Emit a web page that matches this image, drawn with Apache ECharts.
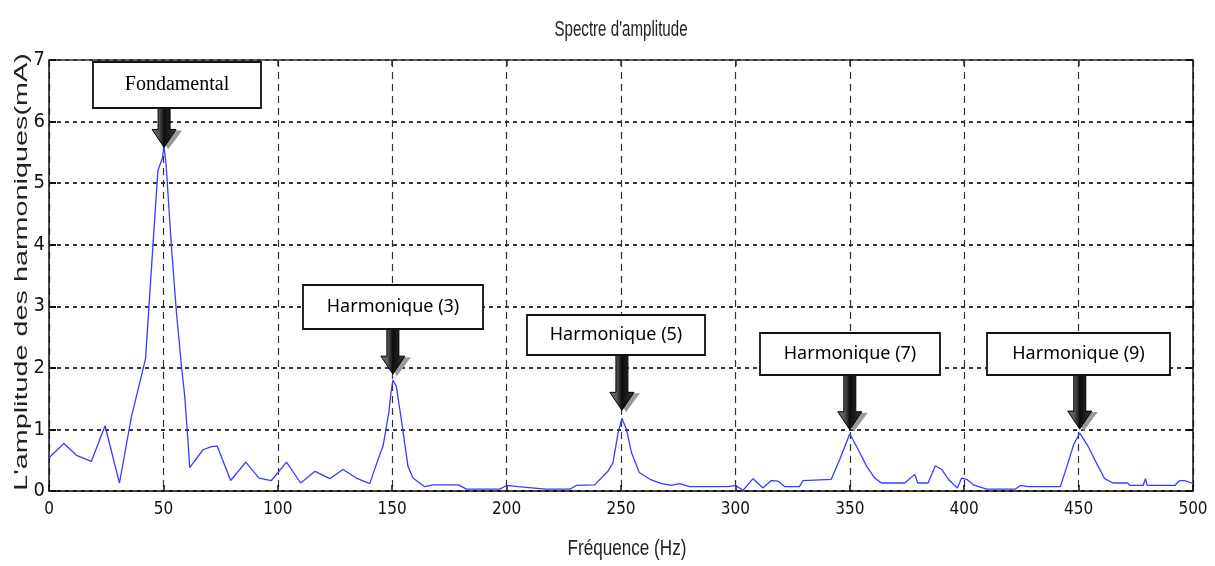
<!DOCTYPE html>
<html><head><meta charset="utf-8">
<script src="https://cdn.jsdelivr.net/npm/echarts@6/dist/echarts.min.js"></script>
<style>html,body{margin:0;padding:0;background:#fff}#c{width:1215px;height:566px}</style>
</head><body><div id="c"></div>
<script>
// ---- data ----
const freqHz = [0, 6.5, 12, 18.5, 24.5, 30.8, 36, 42.2, 45.5, 47.6, 48.5, 49.5, 50.3, 51.2, 53.5, 55.7, 57.9, 59.3, 60.8, 61.5,
  67.3, 71, 73.5, 79.4, 86, 91.8, 97.2, 103.8, 110, 116.3, 122.7, 128.5, 134.3, 140.2, 143.8, 146, 148.5, 149.5, 150.3, 151.8,
  154, 156.9, 159.1, 164.2, 168, 179, 182.4, 197, 200, 205, 217, 227.6, 230.5, 238.5, 244.3, 246.5, 248.7, 250.4, 252.4, 254.6,
  258, 262.7, 267.7, 272, 275.6, 280, 296.8, 300.2, 303.3, 307.7, 312, 315.7, 318.7, 321.6, 328, 329.6, 341.9, 345.6, 350, 353.7,
  357.4, 360.9, 363.8, 374, 378.4, 379.7, 384.2, 387.4, 390.2, 393.1, 397, 398.9, 401.1, 404, 409.8, 422.3, 424.5, 428.1, 442, 444.9,
  447.8, 450.5, 454.1, 457.7, 461.4, 465, 471.6, 472.3, 478.2, 479.2, 480, 492.1, 494.2, 496.4, 499.4, 500];
const amplitude = [0.54, 0.77, 0.58, 0.48, 1.06, 0.13, 1.2, 2.15, 4.03, 5.2, 5.3, 5.4, 5.58, 5.3, 3.97, 2.9, 2.03, 1.55, 0.78, 0.38,
  0.67, 0.72, 0.73, 0.17, 0.47, 0.21, 0.17, 0.47, 0.13, 0.32, 0.2, 0.35, 0.21, 0.12, 0.51, 0.73, 1.27, 1.6, 1.8, 1.7,
  1.16, 0.4, 0.21, 0.07, 0.1, 0.1, 0.03, 0.03, 0.09, 0.07, 0.03, 0.03, 0.09, 0.1, 0.32, 0.46, 0.94, 1.18, 1.0, 0.62,
  0.3, 0.19, 0.12, 0.09, 0.12, 0.07, 0.07, 0.09, 0.01, 0.2, 0.05, 0.17, 0.16, 0.07, 0.07, 0.17, 0.19, 0.51, 0.93, 0.67,
  0.4, 0.21, 0.13, 0.13, 0.27, 0.13, 0.13, 0.41, 0.35, 0.19, 0.05, 0.21, 0.19, 0.1, 0.03, 0.03, 0.09, 0.07, 0.07, 0.4,
  0.75, 0.94, 0.73, 0.46, 0.2, 0.13, 0.13, 0.09, 0.09, 0.2, 0.09, 0.09, 0.17, 0.17, 0.13, 0.13];
const xTickValues = [0, 50, 100, 150, 200, 250, 300, 350, 400, 450, 500];
const yTickValues = [0, 1, 2, 3, 4, 5, 6, 7];
const annotationLabels = ['Fondamental', 'Harmonique (3)', 'Harmonique (5)', 'Harmonique (7)', 'Harmonique (9)'];
const annotationFreq = [50.3, 150.3, 250.4, 350, 450.5];
const annotationPeak = [5.58, 1.8, 1.18, 0.93, 0.94];
const titleText = "Spectre d'amplitude";
const xName = 'Fréquence (Hz)';
const yName = "L'amplitude des harmoniques(mA)";

// ---- layout (pixels) ----
const SANS = '"Noto Sans", "Open Sans", sans-serif';
const boxes = [
  {l: 93, t: 62, w: 168, h: 46, font: '20px "Liberation Serif", "DejaVu Serif", serif', gap: 0},
  {l: 303, t: 285, w: 180, h: 44, font: '18px ' + SANS, gap: 6},
  {l: 527, t: 315, w: 178, h: 40, font: '18px ' + SANS, gap: 8},
  {l: 760, t: 333, w: 180, h: 42, font: '18px ' + SANS, gap: 4},
  {l: 987, t: 333, w: 183, h: 42, font: '18px ' + SANS, gap: 4}
];
const NARROW = '"Liberation Sans Narrow", "DejaVu Sans Condensed", "Liberation Sans", sans-serif';
const ARIAL = '"Liberation Sans", Arial, sans-serif';

const seriesData = freqHz.map((f, i) => [f, amplitude[i]]);
const chart = echarts.init(document.getElementById('c'), null, {renderer: 'canvas'});

const baseX = {type: 'value', min: 0, max: 500, interval: 50};
const baseY = {type: 'value', min: 0, max: 7, interval: 1};
chart.setOption({
  animation: false,
  backgroundColor: '#fff',
  grid: {left: 49, right: 22, top: 60, bottom: 75, containLabel: false, show: false},
  xAxis: [
    Object.assign({}, baseX, {
      position: 'bottom',
      axisLine: {show: true, onZero: false, lineStyle: {color: '#111', width: 1.5}},
      axisTick: {show: true, inside: true, length: 6, lineStyle: {color: '#111', width: 1.5}},
      axisLabel: {color: '#111', fontFamily: NARROW, fontSize: 17, margin: 10,
        formatter: v => xTickValues.includes(v) ? String(v) : ''},
      splitLine: {show: true, lineStyle: {color: '#333', type: [7, 5], width: 1.2}}
    }),
    Object.assign({}, baseX, {
      position: 'top',
      axisLine: {show: true, onZero: false, lineStyle: {color: '#333', width: 1.5}},
      axisTick: {show: true, inside: true, length: 6, lineStyle: {color: '#333', width: 1.5}},
      axisLabel: {show: false}, splitLine: {show: false}
    })
  ],
  yAxis: [
    Object.assign({}, baseY, {
      position: 'left',
      axisLine: {show: true, onZero: false, lineStyle: {color: '#111', width: 1.5}},
      axisTick: {show: true, inside: true, length: 7, lineStyle: {color: '#111', width: 2}},
      axisLabel: {color: '#111', fontFamily: NARROW, fontSize: 20, margin: 4,
        formatter: v => yTickValues.includes(v) ? String(v) : ''},
      splitLine: {show: true, lineStyle: {color: '#333', type: [4, 4], width: 2}}
    }),
    Object.assign({}, baseY, {
      position: 'right',
      axisLine: {show: true, onZero: false, lineStyle: {color: '#111', width: 1.5}},
      axisTick: {show: true, inside: true, length: 7, lineStyle: {color: '#111', width: 2}},
      axisLabel: {show: false}, splitLine: {show: false}
    })
  ],
  series: [{
    type: 'line', xAxisIndex: 0, yAxisIndex: 0, data: seriesData,
    showSymbol: false, symbol: 'none', smooth: false,
    lineStyle: {color: '#3b3bff', width: 1.3}, z: 5
  }]
});

const gfx = [
  {type: 'text', id: 'title', x: 621, y: 30, scaleX: 0.84, scaleY: 1.2, z: 100,
    style: {text: titleText, font: '18px ' + ARIAL, fill: '#222', textAlign: 'center', textVerticalAlign: 'middle'}},
  {type: 'text', id: 'xname', x: 627, y: 549, scaleX: 0.95, scaleY: 1.2, z: 100,
    style: {text: xName, font: '18px ' + ARIAL, fill: '#222', textAlign: 'center', textVerticalAlign: 'middle'}},
  {type: 'text', id: 'yname', x: 22, y: 272, rotation: Math.PI / 2, scaleX: 1.6, z: 100,
    style: {text: yName, font: '18px ' + ARIAL, fill: '#222', textAlign: 'center', textVerticalAlign: 'middle'}}
];
const arrowGrad = new echarts.graphic.LinearGradient(0, 0, 1, 0, [
  {offset: 0, color: '#6e6e6e'}, {offset: 0.28, color: '#5a5a5a'}, {offset: 0.5, color: '#0c0c0c'},
  {offset: 0.72, color: '#202020'}, {offset: 1, color: '#3c3c3c'}
]);
annotationLabels.forEach((lab, i) => {
  const b = boxes[i];
  const p = chart.convertToPixel({gridIndex: 0}, [annotationFreq[i], annotationPeak[i]]);
  const cx = p[0], yT = p[1] - b.gap, y0 = b.t + b.h;
  const sw = 6, hw = 12, hh = 18;
  gfx.push({type: 'polygon', z: 90, shape: {points: [[cx - hw + 6, yT - hh + 1], [cx + hw + 6, yT - hh + 1], [cx + 4, yT + 2]]},
    style: {fill: '#9a9a9a'}});
  gfx.push({type: 'polygon', z: 91, shape: {points: [[cx - sw, y0], [cx + sw, y0], [cx + sw, yT - hh], [cx + hw, yT - hh], [cx, yT], [cx - hw, yT - hh], [cx - sw, yT - hh]]},
    style: {fill: arrowGrad, stroke: '#000', lineWidth: 1}});
  gfx.push({type: 'rect', z: 92, shape: {x: b.l, y: b.t, width: b.w, height: b.h},
    style: {fill: '#fff', stroke: '#111', lineWidth: 1.8}});
  gfx.push({type: 'text', z: 93, x: b.l + b.w / 2, y: b.t + b.h / 2,
    style: {text: lab, font: b.font, fill: '#000', textAlign: 'center', textVerticalAlign: 'middle'}});
});
chart.setOption({graphic: gfx});
</script>
</body></html>
